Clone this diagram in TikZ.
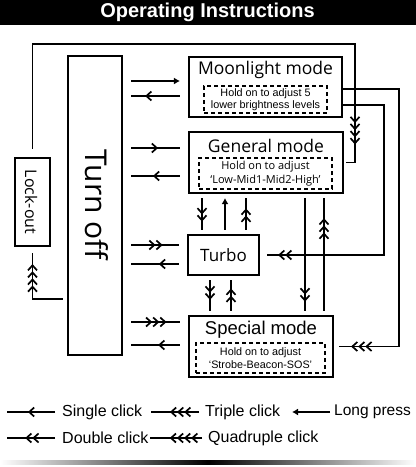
\documentclass[tikz,border=0pt]{standalone}
\usepackage{fontspec}
\setmainfont{Liberation Sans}
\newfontfamily\osans{Open Sans}
\usetikzlibrary{arrows.meta,decorations.markings,calc}

\tikzset{
  clk/.style 2 args={decoration={markings,mark=at position #1 with {\arrow{#2}}},postaction={decorate}},
  sgl/.style={clk={#1}{Straight Barb[length=5pt,width=9pt]}},
  dbl/.style={clk={#1}{Straight Barb[length=5pt,width=9pt]Straight Barb[length=5pt,width=9pt]}},
  trp/.style={clk={#1}{Straight Barb[length=5pt,width=9pt]Straight Barb[length=5pt,width=9pt]Straight Barb[length=5pt,width=9pt]}},
  qdr/.style={clk={#1}{Straight Barb[length=5pt,width=9pt]Straight Barb[length=5pt,width=9pt]Straight Barb[length=5pt,width=9pt]Straight Barb[length=5pt,width=9pt]}},
  lp/.style={-{Latex[length=6pt,width=7pt]}},
  link/.style={line width=1.7pt},
  hl/.style={link,shorten <=8pt,shorten >=8pt},
  vl/.style={link,shorten <=4pt,shorten >=4pt},
  modebox/.style 2 args={draw,line width=2.1pt,minimum width=#1,minimum height=#2,inner sep=0pt},
  hint/.style 2 args={draw,line width=1.8pt,dash pattern=on 4pt off 3pt,minimum width=#1,minimum height=#2,inner sep=0pt,align=center,font=\fontsize{10.8}{12.5}\selectfont},
  ttl/.style={font=\osans\fontsize{17.5}{20}\selectfont,inner sep=0pt},
  lbl/.style={font=\fontsize{16}{18}\selectfont,inner sep=0pt,anchor=west}
}

\begin{document}
\begin{tikzpicture}[x=1pt,y=-1pt]
    \useasboundingbox (0,0) rectangle (416,467);
    \fill (0,0) rectangle (416,25);
    \node[font=\bfseries\fontsize{20}{22}\selectfont,text=white] (title) at (207.5,12.5) {Operating Instructions};
    \shade[left color=white,right color=white,middle color=black] (0,460) rectangle (416,464);

    \node[modebox={54pt}{299pt}] (off) at (95,205.5) {};
    \node[ttl,font=\osans\fontsize{30}{32}\selectfont,rotate=-90] (offtxt) at (97,205) {Turn off};
    \node[modebox={35pt}{88pt}] (lock) at (32.5,202) {};
    \node[ttl,font=\osans\fontsize{16}{18}\selectfont,rotate=-90] (locktxt) at (31,202) {Lock-out};

    \node[modebox={153pt}{60pt}] (moon) at (265.5,87) {};
    \node[ttl] (moontxt) at (265.5,70) {Moonlight mode};
    \node[hint={123pt}{27pt}] (moonhint) at (265.5,99.5) {Hold on to adjust 5\\lower brightness levels};

    \node[modebox={154pt}{61pt}] (gen) at (266,162.5) {};
    \node[ttl] (gentxt) at (266,146) {General mode};
    \node[hint={133pt}{31pt},font=\osans\fontsize{11}{14}\selectfont] (genhint) at (265.5,173.5) {Hold on to adjust\\‘Low-Mid1-Mid2-High’};

    \node[modebox={71pt}{40pt}] (turbo) at (223.5,255) {};
    \node[ttl,font=\osans\fontsize{17}{20}\selectfont] (turbotxt) at (223.5,255) {Turbo};

    \node[modebox={144pt}{61pt}] (spec) at (261,346.5) {};
    \node[ttl,font=\fontsize{18.5}{20}\selectfont] (spectxt) at (261,330) {Special mode};
    \node[hint={129pt}{30pt},font=\fontsize{10.8}{13}\selectfont] (spechint) at (260.5,358) {Hold on to adjust\\‘Strobe-Beacon-SOS’};

    \draw[hl,lp] ($(off.east|-moon.west)+(0,-6)$) -- ($(moon.west)+(0,-6)$);
    \draw[hl,sgl=0.66] ($(moon.west)+(0,9)$) -- ($(off.east|-moon.west)+(0,9)$);
    \draw[hl,sgl=0.54] ($(off.east|-gen.west)+(0,-14.5)$) -- ($(gen.west)+(0,-14.5)$);
    \draw[hl,sgl=0.54] ($(gen.west)+(0,13.5)$) -- ($(off.east|-gen.west)+(0,13.5)$);
    \draw[hl,dbl=0.62] ($(off.east|-turbo.west)+(0,-10)$) -- ($(turbo.west)+(0,-10)$);
    \draw[hl,sgl=0.44] ($(turbo.west)+(0,9)$) -- ($(off.east|-turbo.west)+(0,9)$);
    \draw[hl,trp=0.67] ($(off.east|-spec.west)+(0,-24.5)$) -- ($(spec.west)+(0,-24.5)$);
    \draw[hl,sgl=0.46] ($(spec.west)+(0,-1.5)$) -- ($(off.east|-spec.west)+(0,-1.5)$);

    \draw[vl,dbl=0.69] (gen.south -| 202,0) -- (turbo.north -| 202,0);
    \draw[vl,lp] (turbo.north -| 225,0) -- (gen.south -| 225,0);
    \draw[vl,dbl=0.64] (turbo.north -| 246,0) -- (gen.south -| 246,0);
    \draw[vl,dbl=0.61] (turbo.south -| 210,0) -- (spec.north -| 210,0);
    \draw[vl,dbl=0.68] (spec.north -| 231,0) -- (turbo.south -| 231,0);
    \draw[vl,dbl=0.89] (gen.south -| 305,0) -- (spec.north -| 305,0);
    \draw[vl,trp=0.80] (spec.north -| 324,0) -- (gen.south -| 324,0);

    \draw[link,dbl=-18pt,shorten >=7pt] ($(moon.east)+(0,18)$) -| ($(turbo.east)+(124,0)$) -- (turbo.east);
    \draw[link,trp=-17pt,shorten >=5pt] ($(moon.east)+(0,2)$) -| ($(spec.east)+(65,0)$) -- (spec.east);
    \coordinate (rail) at (355,44);
    \draw[link,qdr=-29pt,shorten <=8pt,shorten >=2pt] (lock.north) |- (rail) |- (gen.east);
    \draw[link,qdr=-17pt,shorten <=4pt,shorten >=6pt] (off.west |- 0,299) -| (lock.south);

    \node[lbl] (lsingle) at (62,412) {Single click};
    \node[lbl] (ltriple) at (205,412) {Triple click};
    \node[lbl,font=\fontsize{15.5}{18}\selectfont] (llong) at (334,412) {Long press};
    \node[lbl] (ldouble) at (62,438) {Double click};
    \node[lbl] (lquad) at (208,438) {Quadruple click};
    \draw[link,sgl=0.62,shorten <=7pt] (lsingle.west) -- ++(-55,0);
    \draw[link,trp=0.65,shorten <=6pt] (ltriple.west) -- ++(-54,0);
    \draw[link,lp,shorten <=4pt] (llong.west) -- ++(-42,0);
    \draw[link,dbl=0.67,shorten <=7pt] (ldouble.west) -- ++(-55,0);
    \draw[link,qdr=0.66,shorten <=6pt] (lquad.west) -- ++(-58,0);
\end{tikzpicture}
\end{document}
